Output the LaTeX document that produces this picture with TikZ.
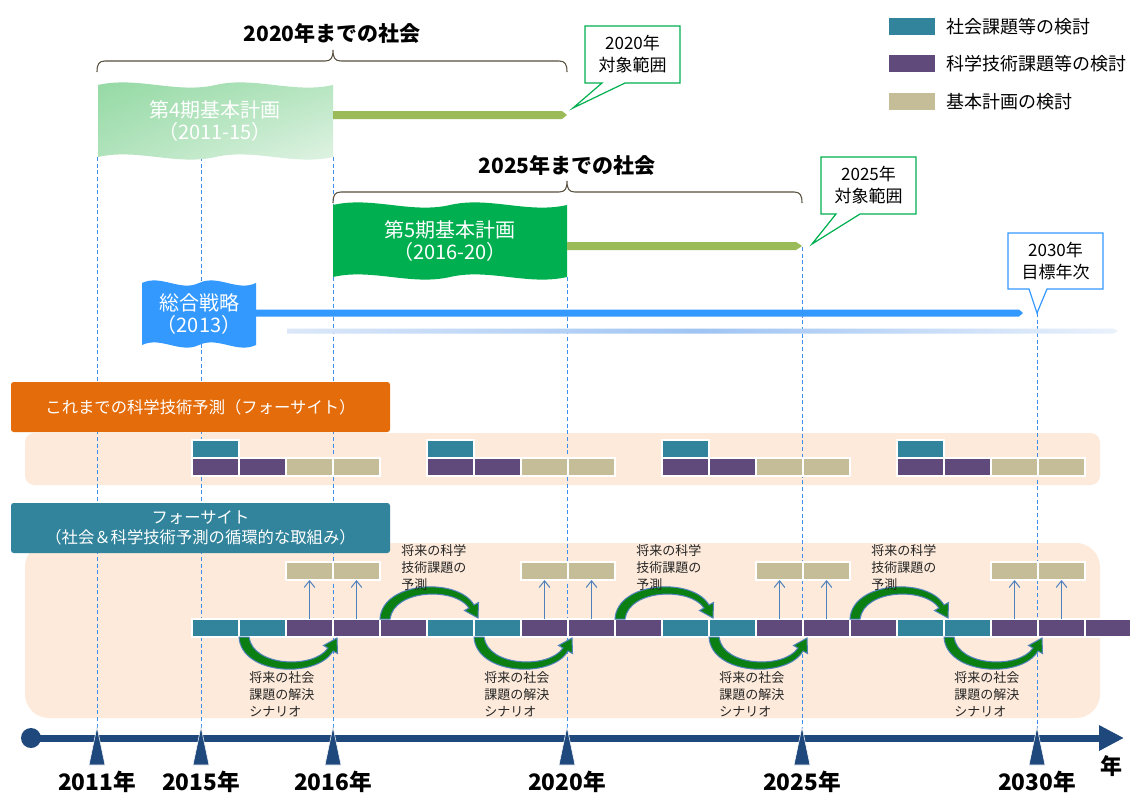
\documentclass[tikz,border=0pt]{standalone}
\usepackage{fontspec}
\setmainfont{Noto Sans CJK JP}
\usepackage{tikz}
\usetikzlibrary{arrows.meta}
\usetikzlibrary{calc}
\usetikzlibrary{shadings}
\usetikzlibrary{positioning}

\definecolor{socC}{HTML}{31849B}
\definecolor{sciC}{HTML}{604A7B}
\definecolor{planC}{HTML}{C4BD97}
\definecolor{oraC}{HTML}{E46C0A}
\definecolor{peachC}{HTML}{FDEADA}
\definecolor{grnC}{HTML}{00B050}
\definecolor{oliveC}{HTML}{9BBB59}
\definecolor{bluC}{HTML}{3399FF}
\definecolor{navyC}{HTML}{1F497D}
\definecolor{dashC}{HTML}{3D8FEF}
\definecolor{arrC}{HTML}{4F81BD}
\definecolor{braceC}{HTML}{595040}
\definecolor{paleA}{HTML}{93D9A3}
\definecolor{paleB}{HTML}{E3F4E6}
\definecolor{skyA}{HTML}{DCE8F9}
\definecolor{skyB}{HTML}{9FC4F3}
\definecolor{arcG}{HTML}{0B7F12}

% wavy banner: style, x, y, width, height
\newcommand\wave[5]{%
  \path[#1] (#2,#3)
    .. controls ({#2+#4/6},{#3-9}) and ({#2+#4/3},{#3+9}) .. ({#2+#4/2},#3)
    .. controls ({#2+2*#4/3},{#3-9}) and ({#2+5*#4/6},{#3+9}) .. ({#2+#4},#3)
    -- ({#2+#4},{#3+#5})
    .. controls ({#2+5*#4/6},{#3+#5+9}) and ({#2+2*#4/3},{#3+#5-9}) .. ({#2+#4/2},{#3+#5})
    .. controls ({#2+#4/3},{#3+#5+9}) and ({#2+#4/6},{#3+#5-9}) .. (#2,{#3+#5}) -- cycle;}

% brace: x0, xm, x1, y
\newcommand\spanbrace[4]{%
  \draw[bracestyle] (#1,{#4+11}) .. controls (#1,{#4+3}) and ({#1+2},#4) .. ({#1+8},#4)
    -- ({#2-8},#4) .. controls ({#2-2},#4) and (#2,{#4-3}) .. (#2,{#4-11})
    .. controls (#2,{#4-3}) and ({#2+2},#4) .. ({#2+8},#4)
    -- ({#3-8},#4) .. controls ({#3-2},#4) and (#3,{#4+3}) .. (#3,{#4+11});}

\tikzset{
  toparc/.pic={
    \filldraw[arcstyle] (0,0) .. controls (2,-38) and (78,-42) .. (94,-14)
      -- (98.5,-16.5) -- (98,-1) -- (84.5,-8.5) -- (89,-11)
      .. controls (75,-32) and (14,-30) .. (10,0) -- cycle;
  }
}

\begin{document}
\begin{tikzpicture}[x=0.75pt, y=-0.75pt,
    cell/.style={rectangle, draw=white, line width=0.9pt, inner sep=0pt, outer sep=0pt,
                 minimum width=35.25pt, minimum height=13.5pt},
    keybox/.style={rectangle, inner sep=0pt, outer sep=0pt, minimum width=34.5pt, minimum height=12.75pt},
    keytxt/.style={inner sep=0pt, anchor=west, font=\fontsize{13.5pt}{15pt}\selectfont},
    headbox/.style={rectangle, rounded corners=2pt, inner sep=0pt, minimum width=284.25pt,
                    minimum height=37.5pt, text=white, align=center, font=\fontsize{12.25pt}{15pt}\selectfont},
    flagtxt/.style={text=white, align=center, font=\fontsize{15pt}{17pt}\selectfont},
    calltxt/.style={align=center, font=\fontsize{12.75pt}{16pt}\selectfont},
    title/.style={font=\bfseries\fontsize{15.75pt}{18pt}\selectfont},
    yearlbl/.style={font=\bfseries\fontsize{17pt}{20pt}\selectfont},
    note/.style={align=left, inner sep=0pt, anchor=west, text=black!85,
                 font=\fontsize{9.75pt}{12.75pt}\selectfont},
    guide/.style={draw=dashC, line width=0.75pt, dash pattern=on 3pt off 2pt},
    bracestyle/.style={draw=braceC, line width=0.8pt},
    arcstyle/.style={fill=arcG, draw=arrC, line width=0.75pt},
    uparrow/.style={draw=arrC, line width=0.75pt, -{Straight Barb[length=5pt,width=8pt]}},
    callgrn/.style={fill=white, draw=grnC, line width=0.9pt},
    callblu/.style={fill=white, draw=bluC, line width=0.9pt}]

  \fill[white] (0,0) rectangle (1130,792);
  \useasboundingbox (0,0) rectangle (1130,792);

  % bands
  \fill[peachC, rounded corners=7pt] (25,433) rectangle (1100,485);
  \fill[peachC, rounded corners=18pt] (25,543) rectangle (1100,718);

  % year guides
  \foreach \xx/\ys in {97/157, 201/157, 333/157, 567/277, 802/247, 1037/313}
    \draw[guide] (\xx,\ys) -- (\xx,736);

  % braces and titles
  \node[title] (s2020) at (332,33) {2020年までの社会};
  \spanbrace{97}{333}{567}{61}
  \node[title] (s2025) at (567,165) {2025年までの社会};
  \spanbrace{333}{567}{802}{192}

  % plans
  \wave{shade, upper left=paleA, upper right=paleA!60!paleB, lower left=paleA!60!paleB, lower right=paleB}{98}{85}{235}{72}
  \node[flagtxt] (f4) at (215,121) {第4期基本計画\\（2011-15）};
  \fill[oliveC] (333,111) -- (562,111) -- (567,115) -- (562,119) -- (333,119) -- cycle;

  \wave{fill=grnC}{333}{205}{234}{72}
  \node[flagtxt] (f5) at (450,241) {第5期基本計画\\（2016-20）};
  \fill[oliveC] (567,242) -- (796,242) -- (802,246) -- (796,250) -- (567,250) -- cycle;

  \wave{fill=bluC}{142}{283}{114}{62}
  \node[flagtxt] (fs) at (199,314) {総合戦略\\（2013）};
  \fill[bluC] (256,309.5) -- (1019,309.5) -- (1023,313) -- (1019,316.5) -- (256,316.5) -- cycle;
  \shade[left color=skyA, right color=skyA!60!white, middle color=skyB]
    (287,328.5) -- (1113,328.5) -- (1118,331) -- (1113,333.5) -- (287,333.5) -- cycle;

  % callouts
  \draw[callgrn] (585,26) -- (680,26) -- (680,83) -- (625,83) -- (573,108) -- (602,83) -- (585,83) -- cycle;
  \node[calltxt] (c2020) at (632.5,54) {2020年\\対象範囲};
  \draw[callgrn] (821,157) -- (916,157) -- (916,214) -- (860,214) -- (812,244) -- (836,214) -- (821,214) -- cycle;
  \node[calltxt] (c2025) at (868.5,185) {2025年\\対象範囲};
  \draw[callblu] (1008,233) -- (1103,233) -- (1103,289) -- (1047,289) -- (1037,313) -- (1029,289) -- (1008,289) -- cycle;
  \node[calltxt] (c2030) at (1055.5,261) {2030年\\目標年次};

  % legend
  \node[keybox, fill=socC] (k1) at (912,26.5) {};
  \node[keybox, fill=sciC] (k2) at (912,63.5) {};
  \node[keybox, fill=planC] (k3) at (912,101.5) {};
  \node[keytxt, right=8.25pt of k1] (k1t) {社会課題等の検討};
  \node[keytxt, right=8.25pt of k2] (k2t) {科学技術課題等の検討};
  \node[keytxt, right=8.25pt of k3] (k3t) {基本計画の検討};

  % headings
  \node[headbox, fill=oraC] (h1) at (200.5,407) {これまでの科学技術予測（フォーサイト）};
  \node[headbox, fill=socC] (h2) at (200.5,528) {フォーサイト\\（社会＆科学技術予測の循環的な取組み）};

  % past foresight rounds
  \foreach \g in {0,...,3} {
    \node[cell, fill=socC] (pa\g) at (215.5+235*\g,449) {};
    \node[cell, fill=sciC] (pb\g) at (215.5+235*\g,467) {};
    \node[cell, fill=sciC] (pc\g) at (262.5+235*\g,467) {};
    \node[cell, fill=planC] (pd\g) at (309.5+235*\g,467) {};
    \node[cell, fill=planC] (pe\g) at (356.5+235*\g,467) {};
  }

  % cyclic foresight
  \foreach \k in {0,...,19} {
    \pgfmathtruncatemacro\m{mod(\k,5)}
    \ifnum\m<2 \def\cc{socC}\else\def\cc{sciC}\fi
    \node[cell, fill=\cc] (b\k) at (215.5+47*\k,628) {};
  }
  \foreach \g in {0,...,3} {
    \pgfmathtruncatemacro\i{5*\g+2}
    \pgfmathtruncatemacro\j{5*\g+3}
    \node[cell, fill=planC] (ta\g) at (309.5+235*\g,571) {};
    \node[cell, fill=planC] (tb\g) at (356.5+235*\g,571) {};
    \draw[uparrow] (b\i.north) -- (ta\g.south);
    \draw[uparrow] (b\j.north) -- (tb\g.south);
  }
  \foreach \g in {0,...,2} {
    \pgfmathtruncatemacro\i{5*\g+4}
    \pic at (b\i.north west) {toparc};
    \node[note] (sq\g) at (401+235*\g,568) {将来の科学\\技術課題の\\予測};
  }
  \foreach \g in {0,...,3} {
    \pgfmathtruncatemacro\j{5*\g+1}
    \pic[yscale=-1] at (b\j.south west) {toparc};
    \node[note] (sc\g) at (249+235*\g,694) {将来の社会\\課題の解決\\シナリオ};
  }

  % time axis
  \node[circle, fill=navyC, inner sep=0pt, minimum size=15pt] (t0) at (31,738) {};
  \coordinate (t1) at (1124,738);
  \draw[navyC, line width=5.25pt, -{Triangle[length=18.75pt, width=18pt]}] (t0.center) -- (t1);
  \foreach \yr/\xx in {2011/97, 2015/201, 2016/333, 2020/567, 2025/802, 2030/1037} {
    \filldraw[fill=navyC, draw=white, line width=0.4pt] (\xx,727) -- (\xx+8,765) -- (\xx-8,765) -- cycle;
    \node[yearlbl] (y\yr) at (\xx,782) {\yr 年};
  }
  \node[font=\bfseries\fontsize{16.5pt}{18pt}\selectfont] (nen) at (1111,766) {年};
\end{tikzpicture}
\end{document}
